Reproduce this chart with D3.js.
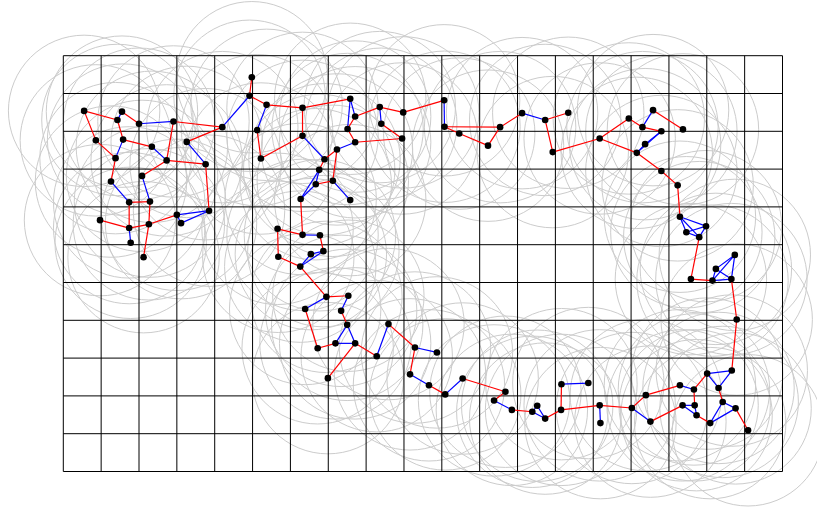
<!DOCTYPE html>
<html lang="en">
<head>
<meta charset="UTF-8">
<title>Grid graph</title>
<script src="https://d3js.org/d3.v7.min.js"></script>
<style>
  body { margin:0; background:#fff; }
  svg { display:block; }
</style>
</head>
<body>
<svg id="chart" width="817" height="508"></svg>
<script>
// grid lines (cell units)
var xTicks = d3.range(0, 20);
var yTicks = d3.range(0, 12);

// node positions in cell units
var nodesX = [4.98,4.92,0.55,1.55,1.43,2.00,2.91,4.20,0.86,1.58,3.26,2.34,2.73,1.38,3.76,2.08,1.26,1.74,2.29,0.97,
  1.74,2.26,3.00,3.11,3.85,1.78,2.12,5.37,5.12,5.22,6.32,6.32,7.58,7.71,7.51,8.36,8.98,8.40,8.95,7.71,
  7.23,6.90,6.76,7.12,6.67,6.27,7.58,5.66,6.32,6.78,6.54,6.87,5.68,6.26,6.95,7.53,6.39,7.34,7.50,6.72,
  7.19,7.71,6.99,8.28,8.59,9.29,9.87,9.16,9.66,10.09,10.55,11.68,11.38,11.85,12.39,12.52,12.73,13.15,13.16,13.87,
  14.17,14.19,15.02,15.51,15.39,16.29,16.66,17.01,17.66,17.31,16.36,16.68,16.73,17.09,17.42,17.76,18.09,17.79,17.65,17.74,
  17.24,17.15,16.58,16.80,16.46,16.98,16.29,16.23,15.80,15.15,15.37,15.80,15.30,15.58,16.37,14.94,14.17,12.93,12.73,13.34,
  12.12,11.54,11.22,10.46,10.07,10.06];
var nodesY = [0.57,1.06,1.46,1.48,1.70,1.80,1.74,1.89,2.24,2.22,2.28,2.41,2.77,2.71,2.87,3.18,3.33,3.88,3.86,4.35,
  4.56,4.46,4.21,4.43,4.10,4.95,5.33,1.30,1.97,2.72,1.38,2.12,1.14,1.61,1.94,1.36,1.50,1.80,2.19,2.29,
  2.48,2.74,3.02,3.31,3.40,3.79,3.82,4.58,4.74,4.75,5.25,5.17,5.32,5.58,6.38,6.35,6.70,6.75,7.12,7.74,
  7.61,7.61,8.53,7.95,7.10,7.72,7.85,8.43,8.72,8.96,8.54,8.89,9.12,9.37,9.42,9.26,9.60,9.37,8.69,8.66,
  9.25,9.72,9.32,9.68,8.98,8.72,8.83,8.41,8.33,8.79,9.25,9.25,9.51,9.72,9.16,9.33,9.91,6.98,5.91,5.27,
  5.64,5.95,5.91,4.80,4.67,4.51,4.26,3.43,3.05,2.57,2.34,2.00,1.89,1.44,1.95,1.66,2.19,2.55,1.70,1.51,
  1.52,1.89,2.38,2.06,1.88,1.18];

// neighbourhood radius, in cells
var radius = 2;

// edges as [from, to] node indices
var redEdges = [[0,1],[1,27],[2,4],[3,5],[6,7],[2,8],[8,13],[4,9],[9,11],[6,12],[12,14],[10,7],[12,15],[13,16],
  [17,18],[17,20],[19,20],[20,21],[21,18],[21,26],[21,22],[24,14],
  [27,30],[28,29],[30,32],[30,31],[31,29],[33,34],[33,35],[35,36],[37,38],[38,39],[34,39],[41,40],[40,43],[41,42],
  [44,43],[45,48],[47,48],[49,51],[47,52],[52,53],[53,54],[54,55],[57,58],[56,59],[59,60],[61,62],[61,63],[64,65],
  [65,67],[68,69],[70,71],[71,72],[73,74],[76,77],[77,78],[77,80],[80,82],[82,84],[84,85],[83,90],[86,91],[87,86],
  [92,93],[89,94],[95,96],[97,88],[98,97],[103,102],[102,101],[107,106],[108,107],[109,108],[116,109],[116,115],
  [115,112],[112,111],[113,114],[117,116],[118,117],[118,119],[121,120],[121,122],[122,123],[123,124],[124,121],[36,125]];
var blueEdges = [[1,7],[3,4],[5,6],[9,13],[11,12],[10,14],[16,17],[15,18],[20,25],[22,24],[22,23],[23,24],
  [27,28],[31,41],[32,33],[32,34],[35,37],[39,40],[42,44],[42,45],[44,45],[43,46],[48,49],[51,50],[51,53],[50,53],
  [54,56],[55,57],[60,58],[58,61],[60,61],[63,64],[65,66],[67,68],[69,70],[72,73],[74,75],[74,76],[75,76],[78,79],
  [80,81],[82,83],[85,86],[90,91],[90,92],[91,92],[88,87],[88,89],[87,89],[93,94],[93,95],[94,95],
  [101,99],[101,100],[101,98],[100,99],[100,98],[99,98],[106,105],[106,104],[106,103],[104,105],[103,105],[104,103],
  [111,110],[111,109],[110,109],[112,113],[120,118],[124,125]];

var svg = d3.select("#chart");
var plotLeft = 63.3, plotTop = 55.7, plotRight = 782.5, plotBottom = 471.5;

var x = d3.scaleLinear().domain([0, 19]).range([plotLeft, plotRight]);
var y = d3.scaleLinear().domain([0, 11]).range([plotTop, plotBottom]);

var nodes = nodesX.map(function(d, i) { return { x: d, y: nodesY[i] }; });

// circles round each node
svg.append("g")
  .selectAll("circle")
  .data(nodes)
  .enter()
  .append("circle")
    .attr("cx", function(d) { return x(d.x); })
    .attr("cy", function(d) { return y(d.y); })
    .attr("r", x(radius) - x(0))
    .attr("fill", "none")
    .attr("stroke", "#cccccc")
    .attr("stroke-width", 1);

// grid
var grid = svg.append("g").attr("stroke", "#000").attr("stroke-width", 1);
grid.selectAll("line.v")
  .data(xTicks)
  .enter()
  .append("line")
    .attr("class", "v")
    .attr("x1", function(d) { return x(d); })
    .attr("x2", function(d) { return x(d); })
    .attr("y1", y(0))
    .attr("y2", y(11));
grid.selectAll("line.h")
  .data(yTicks)
  .enter()
  .append("line")
    .attr("class", "h")
    .attr("y1", function(d) { return y(d); })
    .attr("y2", function(d) { return y(d); })
    .attr("x1", x(0))
    .attr("x2", x(19));

// edges
function drawEdges(list, colour) {
  svg.append("g")
    .selectAll("line")
    .data(list)
    .enter()
    .append("line")
      .attr("x1", function(d) { return x(nodes[d[0]].x); })
      .attr("y1", function(d) { return y(nodes[d[0]].y); })
      .attr("x2", function(d) { return x(nodes[d[1]].x); })
      .attr("y2", function(d) { return y(nodes[d[1]].y); })
      .attr("stroke", colour)
      .attr("stroke-width", 1.2);
}
drawEdges(redEdges, "#ff0000");
drawEdges(blueEdges, "#0000ff");

// nodes
svg.append("g")
  .selectAll("circle")
  .data(nodes)
  .enter()
  .append("circle")
    .attr("cx", function(d) { return x(d.x); })
    .attr("cy", function(d) { return y(d.y); })
    .attr("r", 3.3)
    .attr("fill", "#000");
</script>
</body>
</html>
